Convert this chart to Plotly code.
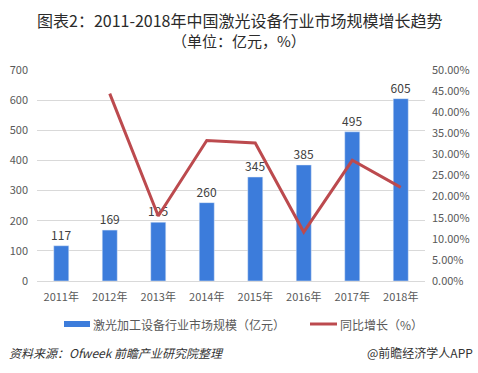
import plotly.graph_objects as go

years = ["2011年", "2012年", "2013年", "2014年", "2015年", "2016年", "2017年", "2018年"]
market_size = [117, 169, 195, 260, 345, 385, 495, 605]
growth_pct = [None, 44.4, 15.4, 33.3, 32.7, 11.6, 28.6, 22.2]
left_ticks = [0, 100, 200, 300, 400, 500, 600, 700]
right_ticks = [0, 5, 10, 15, 20, 25, 30, 35, 40, 45, 50]

BAR_C = "#3C7CDB"
LINE_C = "#BC4A4E"
FONT = "Noto Sans CJK SC, Microsoft YaHei, sans-serif"
TXT = "#595959"

fig = go.Figure()
fig.add_trace(go.Bar(
    x=years, y=market_size, name="激光加工设备行业市场规模（亿元）",
    marker_color=BAR_C, width=0.31,
    text=[str(v) for v in market_size], textposition="outside", constraintext="none",
    textfont=dict(size=12, color="#404040", family=FONT), cliponaxis=False,
))
fig.add_trace(go.Scatter(
    x=years, y=growth_pct, name="同比增长（%）", yaxis="y2",
    mode="lines", line=dict(color=LINE_C, width=3), connectgaps=False,
))

fig.update_layout(
    width=478, height=373,
    margin=dict(l=37, r=53, t=70, b=92, autoexpand=False),
    paper_bgcolor="white", plot_bgcolor="white",
    showlegend=False,
    font=dict(family=FONT, color=TXT, size=11),
    xaxis=dict(showgrid=False, ticks="", tickfont=dict(size=11, color=TXT), automargin=False,
               showline=True, linecolor="#D9D9D9", linewidth=1, ticklabelstandoff=6),
    yaxis=dict(range=[0, 700], tickvals=left_ticks, showgrid=True, gridcolor="#D9D9D9", automargin=False,
               zeroline=False, tickfont=dict(size=11, color=TXT), ticks="", ticklabelstandoff=8),
    yaxis2=dict(range=[0, 50], tickvals=right_ticks, automargin=False,
                ticktext=[f"{v:.2f}%" for v in right_ticks], overlaying="y", side="right",
                showgrid=False, zeroline=False, tickfont=dict(size=11, color=TXT), ticks="",
                ticklabelstandoff=6),
)

H_PLOT = 373 - 70 - 92
W_PLOT = 478 - 37 - 53
def py(pix):
    return (373 - 92 - pix) / H_PLOT
def px(pix):
    return (pix - 37) / W_PLOT

fig.add_annotation(text="图表2：2011-2018年中国激光设备行业市场规模增长趋势", x=px(239), y=py(20),
                   xref="paper", yref="paper", showarrow=False, xanchor="center", yanchor="middle",
                   font=dict(size=16, color="#2b2b2b", family=FONT))
fig.add_annotation(text="（单位：亿元，%）", x=px(239), y=py(40),
                   xref="paper", yref="paper", showarrow=False, xanchor="center", yanchor="middle",
                   font=dict(size=15, color="#2b2b2b", family=FONT))
# legend
fig.add_shape(type="rect", xref="paper", yref="paper", x0=px(64), x1=px(90), y0=py(327), y1=py(321),
              fillcolor=BAR_C, line_width=0)
fig.add_annotation(text="激光加工设备行业市场规模（亿元）", x=px(91), y=py(324), xref="paper", yref="paper",
                   showarrow=False, xanchor="left", yanchor="middle", font=dict(size=12, color=TXT, family=FONT))
fig.add_shape(type="line", xref="paper", yref="paper", x0=px(310), x1=px(337), y0=py(324), y1=py(324),
              line=dict(color=LINE_C, width=3))
fig.add_annotation(text="同比增长（%）", x=px(338), y=py(324), xref="paper", yref="paper",
                   showarrow=False, xanchor="left", yanchor="middle", font=dict(size=12, color=TXT, family=FONT))
# footer
fig.add_annotation(text="<i>资料来源：Ofweek 前瞻产业研究院整理</i>", x=px(7), y=py(352), xref="paper", yref="paper",
                   showarrow=False, xanchor="left", yanchor="middle", font=dict(size=12, color="#333333", family=FONT))
fig.add_annotation(text="@前瞻经济学人APP", x=px(475), y=py(352), xref="paper", yref="paper",
                   showarrow=False, xanchor="right", yanchor="middle", font=dict(size=12, color="#333333", family=FONT))

fig.write_html("out.html", config={"displayModeBar": False},
               post_script="document.body.style.margin='0px';document.body.style.padding='0px';")
